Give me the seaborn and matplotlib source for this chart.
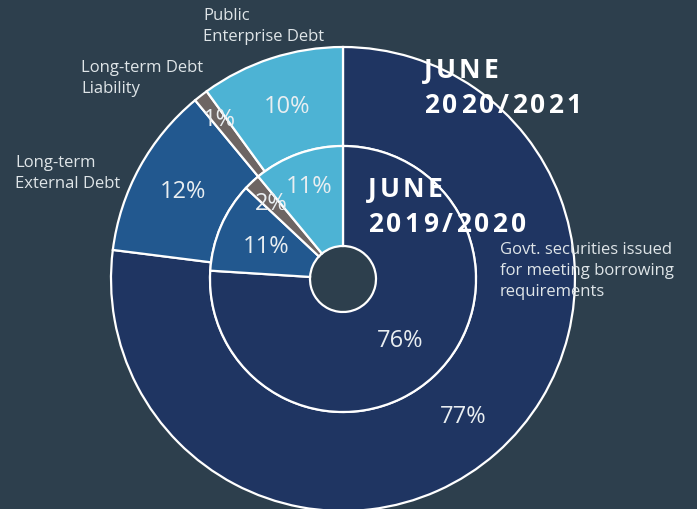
import matplotlib
matplotlib.use("Agg")
import matplotlib.pyplot as plt
import seaborn as sns
from matplotlib.font_manager import findfont, FontProperties
from matplotlib.ft2font import FT2Font

# ---- data ----
categories = ["Govt. securities issued for meeting borrowing requirements",
              "Long-term External Debt",
              "Long-term Debt Liability",
              "Public Enterprise Debt"]
share_2020_2021 = [77, 12, 1, 10]   # outer ring
share_2019_2020 = [76, 11, 2, 11]   # inner ring
ring_titles = ["JUNE\n2020/2021", "JUNE\n2019/2020"]
cat_labels = ["Govt. securities issued\nfor meeting borrowing\nrequirements",
              "Long-term\nExternal Debt",
              "Long-term Debt\nLiability",
              "Public\nEnterprise Debt"]

# ---- style ----
sns.set_theme(style="white")
FONT = ["Open Sans", "DejaVu Sans"]
plt.rcParams["font.family"] = FONT

BG = "#2d3f4d"
colors = ["#1f3562", "#22588f", "#6d6563", "#4db3d4"]
TXT = "#e9eef1"
LAB = "#dfe5e8"

W, H, DPI = 697, 510, 100
fig = plt.figure(figsize=(W / DPI, H / DPI), dpi=DPI, facecolor=BG)
ax = fig.add_axes([0, 0, 1, 1])
ax.set_facecolor(BG)

R_OUT = 232.0
cx, cy = 343.0, 280.0
r_mid_ring = 133.0 / R_OUT
r_hole = 33.0 / R_OUT

wp = dict(edgecolor="white", linewidth=1.6)
fmt = lambda p: f"{p:.0f}%"

w1, _, at1 = ax.pie(share_2020_2021, radius=1.0, startangle=90, counterclock=False,
                    colors=colors, autopct=fmt, pctdistance=0.786,
                    wedgeprops=dict(width=1.0 - r_mid_ring, **wp),
                    textprops=dict(color=TXT, fontsize=17))
w2, _, at2 = ax.pie(share_2019_2020, radius=r_mid_ring, startangle=90, counterclock=False,
                    colors=colors, autopct=fmt, pctdistance=0.63,
                    wedgeprops=dict(width=r_mid_ring - r_hole, **wp),
                    textprops=dict(color=TXT, fontsize=17))

# small radial nudges of percentage labels
nudge_out = [1.0, 1.0, 1.11, 1.0]
nudge_in = [1.0, 1.0, 1.25, 1.18]
for t, s in zip(at1, nudge_out):
    x, y = t.get_position(); t.set_position((x * s, y * s))
for t, s in zip(at2, nudge_in):
    x, y = t.get_position(); t.set_position((x * s, y * s))

ax.set_xlim(-cx / R_OUT, (W - cx) / R_OUT)
ax.set_ylim(-(H - cy) / R_OUT, cy / R_OUT)
ax.set_aspect("auto")
ax.axis("off")

# ---- category labels ----
lab_pos = [(500, 242), (15, 155), (81, 60), (203, 8)]
for txt, (px, py) in zip(cat_labels, lab_pos):
    fig.text(px / W, 1 - py / H, txt, color=LAB, fontsize=12, ha="left", va="top",
             linespacing=1.42)

# ---- letter-spaced bold titles ----
fp = FontProperties(family="Open Sans", weight="bold")
font = FT2Font(findfont(fp))
TSIZE = 19

def advance(ch):
    font.set_size(TSIZE, 72)
    g = font.load_char(ord(ch))
    return g.linearHoriAdvance / 65536.0 * DPI / 72.0

def spaced(px, py, s, spacing):
    x = px
    for ch in s:
        fig.text(x / W, 1 - py / H, ch, color="white", fontsize=TSIZE,
                 fontweight="bold", family=FONT, ha="left", va="baseline")
        x += advance(ch) + spacing

title_pos = [(424, 78), (368, 197)]
for title, (px, py) in zip(ring_titles, title_pos):
    l1, l2 = title.split("\n")
    spaced(px, py, l1, 3.0)
    spaced(px, py + 35, l2, 3.3)

fig.savefig("out.png", dpi=DPI, facecolor=BG)
